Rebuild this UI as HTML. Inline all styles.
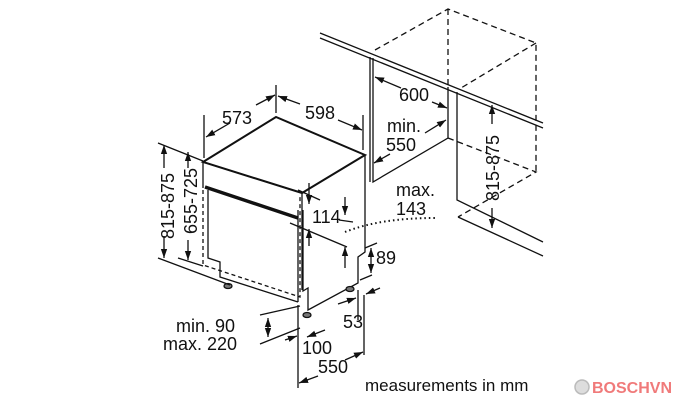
<!DOCTYPE html>
<html><head><style>
html,body{margin:0;padding:0;background:#fff;}
svg{display:block;}
text{font-family:"Liberation Sans",Arial,sans-serif;font-size:18px;fill:#111;}
</style></head><body>
<svg width="700" height="400" viewBox="0 0 700 400" xmlns="http://www.w3.org/2000/svg">
<defs>
<marker id="a" viewBox="0 0 10 10" refX="10" refY="5" markerWidth="7" markerHeight="7" orient="auto-start-reverse"><path d="M0,1.5 L10,5 L0,8.5 z" fill="#111"/></marker>
</defs>
<g stroke="#111" fill="none" stroke-width="1.3">
<!-- cabinets on right -->
<line x1="320" y1="33" x2="543" y2="123"/>
<line x1="320" y1="38" x2="543" y2="128"/>
<path d="M370,57 V182 M373,58 V182 L448,138 V87"/>
<path d="M457,92 V200 L543,242 M458,217 L543,256"/>
<g stroke-dasharray="6,4">
<path d="M375,50 L448,9 L536,43 V172 M448,9 V87 M536,43 L461,88 M448,138 L536,172 L458,217"/>
</g>
<!-- dimension 600, min 550 -->
<line x1="375" y1="77" x2="401" y2="88" marker-start="url(#a)"/>
<line x1="432" y1="102" x2="447" y2="108" marker-end="url(#a)"/>
<line x1="425" y1="133" x2="446" y2="120" marker-end="url(#a)"/>
<line x1="390" y1="154" x2="374" y2="163" marker-end="url(#a)"/>
<!-- 815-875 right -->
<line x1="492" y1="124" x2="492" y2="105" marker-end="url(#a)"/>
<line x1="492" y1="208" x2="492" y2="228" marker-end="url(#a)"/>
<!-- appliance -->
<path d="M203,162 L276,117 L365,155 L302,193 Z" stroke-width="2"/>
<path d="M203,162 V188 M203,162 L302,193 V290"/>
<path d="M205,187 L298,218" stroke-width="3.5"/>
<path d="M208,190 V258 L220,262 V277 L298,302 M298,210 V302"/>
<path d="M365,155 V252 L358,257 V283 L308,310 V288 L303,291 V210"/>
<g stroke-dasharray="4,3"><path d="M203,190 V265 L300,297 V195"/></g>
<!-- feet -->
<ellipse cx="228" cy="286" rx="4" ry="2.5" fill="#777"/>
<ellipse cx="307" cy="315" rx="4" ry="2.5" fill="#777"/>
<ellipse cx="350" cy="289" rx="4" ry="2.5" fill="#777"/>
<!-- top dims 573 598 -->
<line x1="204" y1="115" x2="204" y2="158"/>
<line x1="276" y1="85" x2="276" y2="113"/>
<line x1="363" y1="115" x2="363" y2="150"/>
<line x1="230" y1="123" x2="206" y2="137" marker-end="url(#a)"/>
<line x1="256" y1="105" x2="275" y2="95" marker-end="url(#a)"/>
<line x1="300" y1="104" x2="278" y2="96" marker-end="url(#a)"/>
<line x1="338" y1="120" x2="362" y2="130" marker-end="url(#a)"/>
<!-- left dims -->
<line x1="158" y1="143" x2="203" y2="161"/>
<line x1="158" y1="258" x2="230" y2="285"/>
<line x1="178" y1="258" x2="203" y2="266"/>
<line x1="164" y1="168" x2="164" y2="145" marker-end="url(#a)"/>
<line x1="164" y1="236" x2="164" y2="258" marker-end="url(#a)"/>
<line x1="188" y1="168" x2="188" y2="152" marker-end="url(#a)"/>
<line x1="188" y1="240" x2="188" y2="260" marker-end="url(#a)"/>
<!-- 114 -->
<line x1="298" y1="190" x2="320" y2="200"/>
<line x1="290" y1="223" x2="347" y2="247"/>
<line x1="309" y1="183" x2="309" y2="204" marker-end="url(#a)"/>
<line x1="309" y1="246" x2="309" y2="229" marker-end="url(#a)"/>
<line x1="345" y1="197" x2="345" y2="215" marker-end="url(#a)"/>
<line x1="339" y1="220" x2="353" y2="222"/>
<line x1="345" y1="268" x2="345" y2="247" marker-end="url(#a)"/>
<!-- 89 -->
<line x1="365" y1="248" x2="377" y2="243"/>
<line x1="360" y1="280" x2="372" y2="275"/>
<line x1="371" y1="262" x2="371" y2="248" marker-end="url(#a)"/>
<line x1="371" y1="262" x2="371" y2="273" marker-end="url(#a)"/>
<!-- dotted -->
<path d="M345,232 Q380,218 435,218" stroke-dasharray="1.5,3" stroke-width="2"/>
<!-- bottom dims -->
<line x1="298" y1="305" x2="298" y2="388"/>
<line x1="364" y1="295" x2="364" y2="355"/>
<line x1="358" y1="290" x2="358" y2="320"/>
<line x1="338" y1="304" x2="356" y2="298" marker-end="url(#a)"/>
<line x1="380" y1="288" x2="366" y2="294" marker-end="url(#a)"/>
<line x1="325" y1="330" x2="307" y2="337" marker-end="url(#a)"/>
<line x1="285" y1="340" x2="297" y2="336" marker-end="url(#a)"/>
<line x1="260" y1="315" x2="300" y2="306"/>
<line x1="260" y1="344" x2="300" y2="328"/>
<line x1="268" y1="326" x2="268" y2="318" marker-end="url(#a)"/>
<line x1="268" y1="326" x2="268" y2="337" marker-end="url(#a)"/>
<line x1="318" y1="376" x2="299" y2="383" marker-end="url(#a)"/>
<line x1="345" y1="360" x2="363" y2="352" marker-end="url(#a)"/>
</g>
<g>
<text x="222" y="124">573</text>
<text x="305" y="119">598</text>
<text x="399" y="101">600</text>
<text x="387" y="132">min.</text>
<text x="386" y="151">550</text>
<text x="396" y="196">max.</text>
<text x="396" y="215">143</text>
<text x="312" y="223">114</text>
<text x="376" y="264">89</text>
<text x="343" y="328">53</text>
<text x="176" y="332">min. 90</text>
<text x="163" y="350">max. 220</text>
<text x="302" y="354">100</text>
<text x="318" y="373">550</text>
<text x="365" y="391" style="font-size:17px">measurements in mm</text>
<text transform="translate(174,239) rotate(-90)">815-875</text>
<text transform="translate(197,234) rotate(-90)">655-725</text>
<text transform="translate(499,201) rotate(-90)">815-875</text>
</g>
<circle cx="582" cy="387" r="7" fill="#ddd" stroke="#bbb" stroke-width="1.5"/>
<text x="592" y="393" style="font-size:16px;font-weight:bold;fill:#f07a7a">BOSCHVN</text>
</svg>
</body></html>
